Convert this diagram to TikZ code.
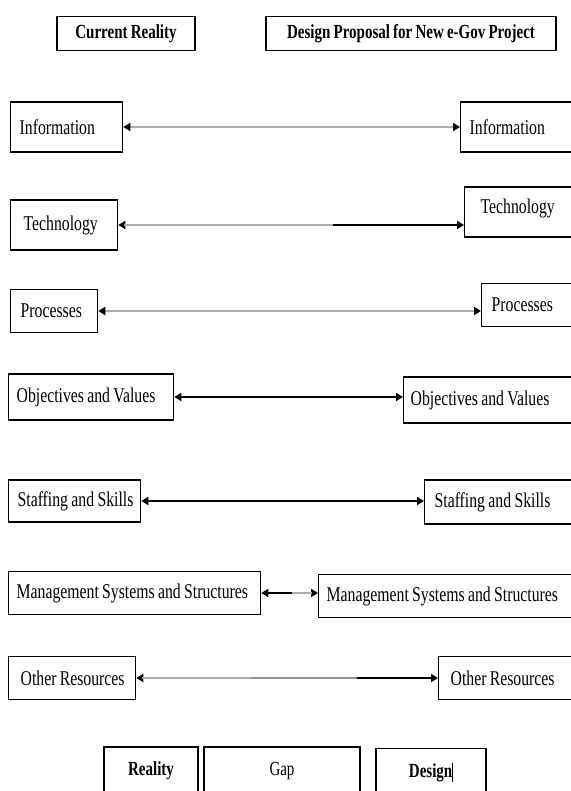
\documentclass[tikz,border=0pt]{standalone}
\usepackage{fontspec}
\setmainfont{Liberation Serif}[FakeStretch=0.75,WordSpace=0.85]
\usepackage{tikz}
\usetikzlibrary{arrows.meta,calc}
\newcommand\lbl[2]{\makebox[#1][l]{#2}}

\begin{document}
\begin{tikzpicture}[x=1pt,y=-1pt,
  cell/.style={draw,line width=1.3pt,anchor=west,inner xsep=10pt,inner ysep=0pt,
    minimum height=46pt,font=\fontsize{21}{23}\selectfont},
  head/.style={draw,line width=1.3pt,inner sep=0pt,minimum height=34pt,
    font=\bfseries\fontsize{20}{22}\selectfont},
  foot/.style={draw,line width=1.3pt,inner sep=0pt,minimum height=48pt,
    font=\fontsize{20}{22}\selectfont},
  link/.style={{Triangle[length=7pt,width=8pt,color=black]}-{Triangle[length=7pt,width=8pt,color=black]},
    line width=1.7pt},
  pale/.style={gray!65,line width=2.8pt}]
  \useasboundingbox(0,0)rectangle(570,791);
  % headings
  \node[head,minimum width=138pt](cur)at(126,33.5){Current Reality};
  \node[head,minimum width=290pt](prop)at(411,33.5){Design Proposal for New e-Gov Project};
  % current reality column
  \node[cell,inner xsep=9pt,minimum height=50pt](infoL)at(10,127){\lbl{94pt}{Information}};
  \node[cell,inner xsep=13pt,minimum height=50pt](techL)at(10,225){\lbl{81pt}{Technology}};
  \node[cell,minimum height=43pt](procL)at(10,311){\lbl{67pt}{Processes}};
  \node[cell,inner xsep=8pt](objL)at(8,397){\lbl{149pt}{Objectives and Values}};
  \node[cell,inner xsep=9pt,minimum height=42pt](staffL)at(8,501){\lbl{114pt}{Staffing and Skills}};
  \node[cell,inner xsep=8pt,minimum height=43pt](mgmtL)at(8,593){\lbl{236pt}{Management Systems and Structures}};
  \node[cell,inner xsep=12pt,minimum height=43pt](otherL)at(8,678){\lbl{103pt}{Other Resources}};
  % design column
  \node[cell,inner xsep=9pt,minimum height=50pt](infoR)at(460,127){\lbl{122pt}{Information}};
  \node[cell,inner xsep=16pt,minimum height=50pt,text depth=12pt](techR)at(464,212){\lbl{120pt}{Technology}};
  \node[cell,minimum height=43pt](procR)at(481,305){\lbl{100pt}{Processes}};
  \node[cell,inner xsep=7pt](objR)at(403,400){\lbl{183pt}{Objectives and Values}};
  \node[cell,minimum height=44pt](staffR)at(424,502){\lbl{160pt}{Staffing and Skills}};
  \node[cell,inner xsep=8pt,minimum height=43pt](mgmtR)at(318,596){\lbl{270pt}{Management Systems and Structures}};
  \node[cell,inner xsep=12pt,minimum height=43pt](otherR)at(438,678){\lbl{140pt}{Other Resources}};
  % links
  \draw[link,pale](infoL.east)--(infoR.west);
  \draw[link](techL.east)--(techL.east-|techR.west);
  \draw[pale,shorten <=6pt](techL.east)--($(techL.east)!0.62!(techL.east-|techR.west)$);
  \draw[link,pale](procL.east)--(procL.east-|procR.west);
  \draw[link](objL.east)--(objL.east-|objR.west);
  \draw[link](staffL.east)--(staffL.east-|staffR.west);
  \draw[link](mgmtL.east)--(mgmtL.east-|mgmtR.west);
  \draw[pale,shorten >=6pt]($(mgmtL.east)!0.55!(mgmtL.east-|mgmtR.west)$)--(mgmtL.east-|mgmtR.west);
  \draw[link](otherL.east)--(otherR.west);
  \draw[pale,shorten <=6pt](otherL.east)--($(otherL.east)!0.38!(otherR.west)$);
  \draw[pale,gray!85]($(otherL.east)!0.38!(otherR.west)$)--($(otherL.east)!0.73!(otherR.west)$);
  % legend
  \node[foot,minimum width=94pt,font=\bfseries\fontsize{20}{22}\selectfont](real)at(151,771){Reality};
  \node[foot,minimum width=156pt](gap)at(282,771){Gap};
  \node[foot,minimum width=110pt,font=\bfseries\fontsize{20}{22}\selectfont](des)at(431,772.5)
    {Design\rule[-4pt]{0.7pt}{19pt}};
\end{tikzpicture}
\end{document}
